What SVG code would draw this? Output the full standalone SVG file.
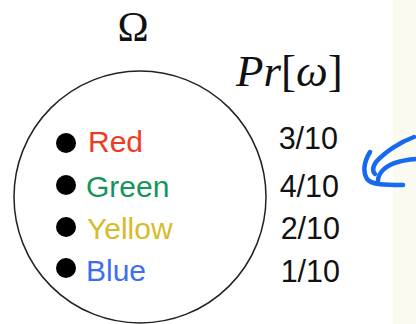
<svg xmlns="http://www.w3.org/2000/svg" width="416" height="324" viewBox="0 0 416 324">
<style>
.lbl{font-family:"Liberation Sans",Arial,sans-serif;font-size:30px}
.num{font-family:"Liberation Sans",Arial,sans-serif;font-size:30.5px;fill:#111;text-anchor:end}
.math{font-family:"Liberation Serif","Times New Roman",serif;fill:#111}
.dot{fill:#000}
.pen{fill:none;stroke:#1769f0;stroke-width:4.5;stroke-linecap:round;stroke-linejoin:round}
</style>
<rect x="0" y="0" width="416" height="324" fill="#ffffff"/>
<rect x="393" y="0" width="23" height="324" fill="#fafaf0"/>
<g id="omega-set">
<circle cx="140" cy="197" r="126" fill="none" stroke="#222" stroke-width="1.5"/>
<text class="math" x="133" y="41" font-size="42" text-anchor="middle">Ω</text>
</g>
<g id="pr-header">
<text class="math" x="236" y="86" font-size="45"><tspan font-style="italic">Pr</tspan><tspan>[</tspan><tspan font-style="italic">ω</tspan><tspan>]</tspan></text>
</g>
<g id="red">
<circle class="dot" cx="66" cy="143" r="10"/>
<text class="lbl" x="88" y="152" fill="#f03a1f">Red</text>
<text class="num" x="338" y="149">3/10</text>
</g>
<g id="green">
<circle class="dot" cx="66" cy="185" r="10"/>
<text class="lbl" x="86" y="197" fill="#16955a">Green</text>
<text class="num" x="339" y="197">4/10</text>
</g>
<g id="yellow">
<circle class="dot" cx="66" cy="227" r="10"/>
<text class="lbl" x="87" y="239" fill="#d6bb2c">Yellow</text>
<text class="num" x="340" y="239">2/10</text>
</g>
<g id="blue">
<circle class="dot" cx="66" cy="268" r="10"/>
<text class="lbl" x="86" y="281" fill="#3b6ff0">Blue</text>
<text class="num" x="340" y="282">1/10</text>
</g>
<g id="connectors">
<path class="pen" d="M414 137 C400 142 385 152 376 162 C372 168 373 172 375 174"/>
<path class="pen" d="M370 152 C364 162 363 172 367 179 C372 185 385 185 403 185"/>
<path class="pen" d="M416 159 C402 160 390 163 383 170 C379 174 378 178 378 181"/>
</g>
</svg>
